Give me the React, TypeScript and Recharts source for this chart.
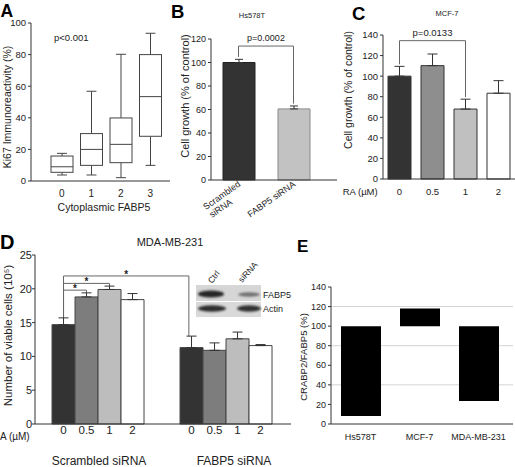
import React from "react";
import {
  BarChart,
  Bar,
  XAxis,
  YAxis,
  Cell,
  ErrorBar,
  ReferenceLine,
  CartesianGrid,
  LabelList,
  Rectangle,
} from "recharts";

const FONT = '"Liberation Sans", Arial, sans-serif';
const INK = "#222";
const AXIS = "#333";
const BRACKET = "#666";

// A: Ki67 by cytoplasmic FABP5 score (box plot)
const aGrades = ["0", "1", "2", "3"];
const aMin = [3.8, 3.8, 2.1, 9.9];
const aQ1 = [5.5, 9.9, 11.6, 28.3];
const aMedian = [9, 20, 23.2, 53.4];
const aQ3 = [15.8, 30, 39.9, 80];
const aMax = [17.5, 56.8, 80.2, 93.5];
const aTicks = [0, 20, 40, 60, 80, 100];

// B: Hs578T
const bGroups = ["Scrambled\nsiRNA", "FABP5 siRNA"];
const bGrowth = [100, 60.5];
const bErr = [2.7, 2.5];
const bTicks = [0, 20, 40, 60, 80, 100, 120];
const bFill = ["#333333", "#c2c2c2"];
const bStroke = ["#222222", "#8a8a8a"];
const bSigLevel = 114;

// C: MCF-7
const cDoses = ["0", "0.5", "1", "2"];
const cGrowth = [100, 110.2, 68, 83.4];
const cErr = [9.5, 11.3, 9.6, 12.2];
const cTicks = [0, 20, 40, 60, 80, 100, 120, 140];
const cFill = ["#333333", "#8e8e8e", "#c0c0c0", "#ffffff"];
const cSigLevel = 134.5;

// D: MDA-MB-231
const dGroups = ["Scrambled siRNA", "FABP5 siRNA"];
const dDoses = ["0", "0.5", "1", "2"];
const dScrambled = [14.7, 18.8, 19.9, 18.4];
const dScrambledErr = [1.0, 0.6, 0.5, 0.9];
const dFabp5 = [11.3, 10.9, 12.6, 11.6];
const dFabp5Err = [1.7, 1.1, 1.0, 0.15];
const dTicks = [0, 5, 10, 15, 20, 25];
const dFill = ["#333333", "#7d7d7d", "#bdbdbd", "#ffffff"];
// [group, dose] pairs compared against scrambled / 0 µM
const dBrackets = [
  { from: [0, 0], to: [0, 1], level: 19.8 },
  { from: [0, 0], to: [0, 2], level: 20.8 },
  { from: [0, 0], to: [1, 0], level: 21.9 },
];
const D_GAP = 0.133;

// E: CRABP2/FABP5 ratio
const eLines = ["Hs578T", "MCF-7", "MDA-MB-231"];
const eRatio = [8.2, 118, 23.5];
const E_BASE = 100;
const eTicks = [0, 20, 40, 60, 80, 100, 120, 140];
const eGrid = [20, 40, 60, 80, 100, 120];

const LEG_GAP = 2;

function AxisTitle(props: any) {
  const { viewBox, text, mode, dx = 0, dy = 0, fontSize = 10, anchor = "middle" } = props;
  if (!viewBox) return null;
  const { x, y, width, height } = viewBox;
  if (mode === "left") {
    const px = x + dx;
    const py = y + height / 2 + dy;
    return (
      <text
        x={px}
        y={py}
        transform={`rotate(-90 ${px} ${py})`}
        textAnchor="middle"
        dominantBaseline="central"
        fontSize={fontSize}
        fontFamily={FONT}
        fill={INK}
      >
        {text}
      </text>
    );
  }
  const px = (anchor === "middle" ? x + width / 2 : x) + dx;
  const py = y + dy;
  return (
    <text x={px} y={py} textAnchor={anchor} fontSize={fontSize} fontFamily={FONT} fill={INK}>
      {text}
    </text>
  );
}

function bracket(
  key: string,
  x1: any,
  x2: any,
  level: number,
  low1: number,
  low2: number,
  text: string,
  fontSize: number
) {
  const common = {
    stroke: BRACKET,
    strokeWidth: 1,
    ifOverflow: "visible" as const,
    position: "middle" as const,
  };
  return [
    <ReferenceLine key={key + "l"} {...common} segment={[{ x: x1, y: low1 }, { x: x1, y: level }]} />,
    <ReferenceLine
      key={key + "t"}
      {...common}
      segment={[{ x: x1, y: level }, { x: x2, y: level }]}
      label={{ value: text, position: "top", fill: INK, fontFamily: FONT, fontSize, offset: 5 }}
    />,
    <ReferenceLine key={key + "r"} {...common} segment={[{ x: x2, y: level }, { x: x2, y: low2 }]} />,
  ];
}

function BoxShape(props: any) {
  const { x, y, width, height, payload } = props;
  const top = Math.min(y, y + height);
  const bottom = Math.max(y, y + height);
  const span = payload.max - payload.min;
  const py = (v: number) => bottom - ((v - payload.min) / span) * (bottom - top);
  const cx = x + width / 2;
  const cap = width * 0.45;
  return (
    <g stroke="#444" strokeWidth={1} fill="none">
      <line x1={cx} x2={cx} y1={py(payload.max)} y2={py(payload.q3)} />
      <line x1={cx} x2={cx} y1={py(payload.q1)} y2={py(payload.min)} />
      <line x1={cx - cap / 2} x2={cx + cap / 2} y1={py(payload.max)} y2={py(payload.max)} />
      <line x1={cx - cap / 2} x2={cx + cap / 2} y1={py(payload.min)} y2={py(payload.min)} />
      <rect x={x} y={py(payload.q3)} width={width} height={py(payload.q1) - py(payload.q3)} fill="#fff" />
      <line x1={x} x2={x + width} y1={py(payload.median)} y2={py(payload.median)} />
    </g>
  );
}

function SlantTick(props: any) {
  const { x, y, payload } = props;
  const lines = String(payload.value).split("\n");
  return (
    <g transform={`translate(${x},${y}) rotate(-35)`}>
      {lines.map((t, i) => (
        <text
          key={i}
          x={i === 0 ? -1 : -18}
          y={6 + i * 10}
          textAnchor="end"
          fontSize={9}
          fontFamily={FONT}
          fill={INK}
        >
          {t}
        </text>
      ))}
    </g>
  );
}

function GroupTick(props: any) {
  const { x, y, payload, index } = props;
  // the second group's caption sits a little right of its bar group
  const shift = index === 1 ? 7 : 0;
  return (
    <text
      x={x + shift}
      y={y}
      dy="0.71em"
      textAnchor="middle"
      fontSize={12}
      fontFamily={FONT}
      fill={INK}
    >
      {payload.value}
    </text>
  );
}

// first dose bar of the first group also carries the significance brackets,
// placed from its own geometry (bars touch, groups one band apart)
function DoseZeroShape(props: any) {
  const { x, y, width, height, index, payload } = props;
  const bar = <Rectangle {...props} />;
  if (index !== 0) return bar;
  const values = [dScrambled, dFabp5];
  const errors = [dScrambledErr, dFabp5Err];
  const base = y + height;
  const perUnit = height / payload.v0;
  const py = (v: number) => base - v * perUnit;
  const band = (width * dDoses.length) / (1 - 2 * D_GAP);
  const cx = (g: number, j: number) => x + (j + 0.5) * width + g * band;
  const errTop = (g: number, j: number) => values[g][j] + errors[g][j];
  return (
    <g>
      {bar}
      {dBrackets.map((b, k) => {
        const x1 = cx(b.from[0], b.from[1]);
        const x2 = cx(b.to[0], b.to[1]);
        const yl = py(b.level);
        return (
          <g key={k}>
            <path
              d={`M${x1},${py(errTop(b.from[0], b.from[1]))}V${yl}H${x2}V${py(errTop(b.to[0], b.to[1]))}`}
              fill="none"
              stroke={BRACKET}
              strokeWidth={1}
            />
            <text
              x={(x1 + x2) / 2}
              y={yl + 2}
              textAnchor="middle"
              fontSize={10}
              fontWeight="bold"
              fontFamily={FONT}
              fill={INK}
            >
              *
            </text>
          </g>
        );
      })}
    </g>
  );
}

function PanelA() {
  const rows = aGrades.map((g, i) => ({
    grade: g,
    min: aMin[i],
    q1: aQ1[i],
    median: aMedian[i],
    q3: aQ3[i],
    max: aMax[i],
  }));
  return (
    <BarChart width={172} height={215} data={rows} margin={{ top: 23, right: 2, bottom: 0, left: 0 }}>
      <XAxis
        dataKey="grade"
        height={34}
        padding={{ left: 16, right: 5 }}
        interval={0}
        tickLine={false}
        tickSize={6}
        tickMargin={3}
        stroke={AXIS}
        tick={{ fontSize: 10, fill: INK, fontFamily: FONT }}
        label={<AxisTitle mode="bottom" text="Cytoplasmic FABP5" dx={3.5} dy={30} fontSize={10.5} />}
      />
      <YAxis
        width={31}
        domain={[0, 100]}
        ticks={aTicks}
        tickSize={3}
        tickMargin={2}
        stroke={AXIS}
        tick={{ fontSize: 9.5, fill: INK, fontFamily: FONT }}
        label={<AxisTitle mode="left" text="Ki67 Immunoreactivity (%)" dx={7} dy={5} fontSize={10.5} />}
      />
      <Bar
        dataKey={(d: any) => [d.min, d.max]}
        barSize={22}
        isAnimationActive={false}
        shape={(p: any) => <BoxShape {...p} />}
      />
    </BarChart>
  );
}

function PanelB() {
  const rows = bGroups.map((g, i) => ({ group: g, growth: bGrowth[i], err: [0, bErr[i]] }));
  const legLow = (i: number) => bGrowth[i] + bErr[i] + LEG_GAP;
  return (
    <BarChart width={175} height={230} data={rows} margin={{ top: 39, right: 3, bottom: 0, left: 0 }}>
      <XAxis
        dataKey="group"
        height={50}
        padding={{ left: 0, right: 16 }}
        interval={0}
        tickLine={false}
        tickSize={0}
        tickMargin={0}
        stroke={AXIS}
        tick={<SlantTick />}
      />
      <YAxis
        width={46}
        domain={[0, 120]}
        ticks={bTicks}
        tickSize={3}
        tickMargin={2}
        stroke={AXIS}
        tick={{ fontSize: 9, fill: INK, fontFamily: FONT }}
        label={<AxisTitle mode="left" text="Cell growth (% of control)" dx={20} dy={-13.5} fontSize={11} />}
      />
      <Bar dataKey="growth" barSize={32} isAnimationActive={false}>
        {rows.map((_, i) => (
          <Cell key={i} fill={bFill[i]} stroke={bStroke[i]} />
        ))}
        <ErrorBar dataKey="err" width={4} stroke={AXIS} strokeWidth={1} isAnimationActive={false} />
      </Bar>
      {bracket("b", bGroups[0], bGroups[1], bSigLevel, legLow(0), legLow(1), "p=0.0002", 9)}
    </BarChart>
  );
}

function PanelC() {
  const rows = cDoses.map((d, i) => ({ dose: d, growth: cGrowth[i], err: [0, cErr[i]] }));
  const legLow = (i: number) => cGrowth[i] + cErr[i] + LEG_GAP;
  return (
    <BarChart width={180} height={215} data={rows} margin={{ top: 35, right: 0, bottom: 12, left: 0 }}>
      <XAxis
        dataKey="dose"
        height={24}
        interval={0}
        tickLine={false}
        tickSize={6}
        tickMargin={3.5}
        stroke={AXIS}
        tick={{ fontSize: 9.5, fill: INK, fontFamily: FONT }}
        label={<AxisTitle mode="bottom" anchor="end" text="RA (µM)" dx={-5.3} dy={16.3} fontSize={9.5} />}
      />
      <YAxis
        width={48}
        domain={[0, 140]}
        ticks={cTicks}
        tickSize={3}
        tickMargin={2}
        stroke={AXIS}
        tick={{ fontSize: 9.5, fill: INK, fontFamily: FONT }}
        label={<AxisTitle mode="left" text="Cell growth (% of control)" dx={13} dy={-17} fontSize={10.5} />}
      />
      <Bar dataKey="growth" barSize={23} isAnimationActive={false}>
        {rows.map((_, i) => (
          <Cell key={i} fill={cFill[i]} stroke={AXIS} />
        ))}
        <ErrorBar dataKey="err" width={5} stroke={AXIS} strokeWidth={1} isAnimationActive={false} />
      </Bar>
      {bracket("c", cDoses[0], cDoses[2], cSigLevel, legLow(0), legLow(2), "p=0.0133", 9.5)}
    </BarChart>
  );
}

function PanelD() {
  const values = [dScrambled, dFabp5];
  const errors = [dScrambledErr, dFabp5Err];
  const rows = dGroups.map((g, gi) => {
    const row: Record<string, any> = { group: g };
    dDoses.forEach((_, j) => {
      row[`v${j}`] = values[gi][j];
      row[`e${j}`] = [0, errors[gi][j]];
    });
    return row;
  });
  return (
    <BarChart
      width={300}
      height={246}
      data={rows}
      margin={{ top: 30, right: 9, bottom: 0, left: 0 }}
      barGap={0}
      barCategoryGap={`${D_GAP * 100}%`}
    >
      <XAxis
        dataKey="group"
        height={47}
        interval={0}
        tickLine={false}
        tickSize={0}
        tickMargin={32.5}
        stroke={AXIS}
        tick={<GroupTick />}
        label={<AxisTitle mode="bottom" anchor="start" text="A (µM)" dx={-35} dy={16} fontSize={10} />}
      />
      <YAxis
        width={35}
        domain={[0, 25]}
        ticks={dTicks}
        tickSize={3}
        tickMargin={0}
        stroke={AXIS}
        tick={{ fontSize: 11, fill: INK, fontFamily: FONT }}
        label={<AxisTitle mode="left" text="Number of viable cells (10⁵)" dx={8} dy={-4} fontSize={11.5} />}
      />
      {dDoses.map((dose, j) => (
        <Bar
          key={dose}
          dataKey={`v${j}`}
          fill={dFill[j]}
          stroke="#444"
          isAnimationActive={false}
          shape={j === 0 ? (p: any) => <DoseZeroShape {...p} /> : undefined}
        >
          <ErrorBar dataKey={`e${j}`} width={5} stroke={AXIS} strokeWidth={1} isAnimationActive={false} />
          <LabelList
            dataKey={`v${j}`}
            position="bottom"
            offset={2}
            formatter={() => dose}
            fontSize={11.5}
            fill={INK}
            fontFamily={FONT}
          />
        </Bar>
      ))}
    </BarChart>
  );
}

function PanelE() {
  const rows = eLines.map((l, i) => ({ line: l, ratio: eRatio[i] }));
  return (
    <BarChart width={225} height={242} data={rows} margin={{ top: 62, right: 2, bottom: 23, left: 0 }}>
      <CartesianGrid vertical={false} horizontalValues={eGrid} stroke="#d4d4d4" />
      <XAxis
        dataKey="line"
        height={20}
        padding={{ left: 0, right: 5 }}
        interval={0}
        tickLine={false}
        tickSize={6}
        tickMargin={4}
        stroke={AXIS}
        tick={{ fontSize: 9, fill: INK, fontFamily: FONT }}
      />
      <YAxis
        width={41}
        domain={[0, 140]}
        ticks={eTicks}
        tickSize={3}
        tickMargin={2}
        stroke={AXIS}
        tick={{ fontSize: 9, fill: INK, fontFamily: FONT }}
        label={<AxisTitle mode="left" text="CRABP2/FABP5 (%)" dx={13} dy={1.5} fontSize={9.5} />}
      />
      <Bar
        dataKey={(d: any) => [Math.min(E_BASE, d.ratio), Math.max(E_BASE, d.ratio)]}
        barSize={40}
        fill="#000"
        isAnimationActive={false}
      />
    </BarChart>
  );
}

function Overlay() {
  const letter = { fontFamily: FONT, fontWeight: "bold" as const, fill: "#000" };
  const small = { fontFamily: FONT, fill: INK };
  return (
    <svg
      width={515}
      height={467}
      style={{ position: "absolute", left: 0, top: 0, pointerEvents: "none" }}
    >
      <defs>
        <filter id="blotBlur" x="-30%" y="-100%" width="160%" height="300%">
          <feGaussianBlur stdDeviation="1.1" />
        </filter>
      </defs>
      <text x={0.5} y={17} fontSize={17.5} {...letter}>A</text>
      <text x={171} y={18.3} fontSize={18.5} {...letter}>B</text>
      <text x={352} y={20} fontSize={18.5} {...letter}>C</text>
      <text x={0} y={249} fontSize={20} {...letter}>D</text>
      <text x={297} y={251.7} fontSize={17} {...letter}>E</text>

      <text x={54} y={40.5} fontSize={9.5} {...small}>p&lt;0.001</text>
      <text x={252} y={18} fontSize={7.5} textAnchor="middle" {...small}>Hs578T</text>
      <text x={447} y={16} fontSize={7.5} textAnchor="middle" {...small}>MCF-7</text>
      <text x={170} y={245.5} fontSize={11} textAnchor="middle" {...small}>MDA-MB-231</text>

      <rect x={196} y={285} width={65} height={16} fill="#d6d6d6" />
      <rect x={196} y={302} width={65} height={15} fill="#d9d9d9" />
      <g filter="url(#blotBlur)">
        <ellipse cx={211} cy={294} rx={13} ry={3.6} fill="#262626" />
        <ellipse cx={249} cy={294.5} rx={11} ry={2.2} fill="#707070" />
        <ellipse cx={212} cy={308.5} rx={14} ry={3.2} fill="#2e2e2e" />
        <ellipse cx={249} cy={308.5} rx={12} ry={3.2} fill="#333" />
      </g>
      <text x={263} y={298} fontSize={9} {...small}>FABP5</text>
      <text x={263} y={311.5} fontSize={9} {...small}>Actin</text>
      <text x={212} y={284} fontSize={8.5} transform="rotate(-52 212 284)" {...small}>Ctrl</text>
      <text x={242} y={283} fontSize={8.5} transform="rotate(-48 242 283)" {...small}>siRNA</text>
    </svg>
  );
}

export default function App() {
  return (
    <div
      style={{
        position: "absolute",
        left: 0,
        top: 0,
        width: 515,
        height: 467,
        background: "#fff",
        overflow: "hidden",
        fontFamily: FONT,
      }}
    >
      <div style={{ position: "absolute", left: 0, top: 0 }}>
        <PanelA />
      </div>
      <div style={{ position: "absolute", left: 165, top: 0 }}>
        <PanelB />
      </div>
      <div style={{ position: "absolute", left: 335, top: 0 }}>
        <PanelC />
      </div>
      <div style={{ position: "absolute", left: 0, top: 225 }}>
        <PanelD />
      </div>
      <div style={{ position: "absolute", left: 290, top: 225 }}>
        <PanelE />
      </div>
      <Overlay />
    </div>
  );
}
